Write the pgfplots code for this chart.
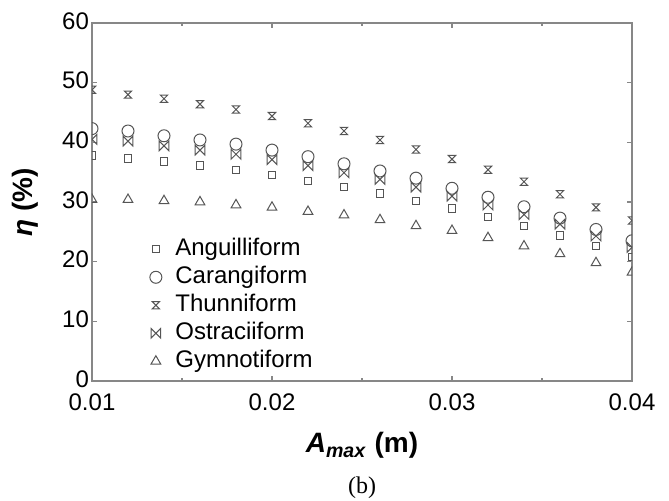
\documentclass[border=0pt]{standalone}
\usepackage{pgfplots}
\pgfplotsset{compat=1.18}
\usepackage{pgfplotstable}
\usepackage{fontspec}
\setmainfont{Liberation Sans}
\newfontfamily\capfont{Liberation Serif}

\definecolor{mk}{RGB}{85,85,85}
\definecolor{frame}{RGB}{135,135,135}

% Thunniform: hourglass, Ostraciiform: bowtie
\pgfdeclareplotmark{hglass}{%
  \pgfpathmoveto{\pgfqpoint{-\pgfplotmarksize}{\pgfplotmarksize}}%
  \pgfpathlineto{\pgfqpoint{\pgfplotmarksize}{\pgfplotmarksize}}%
  \pgfpathlineto{\pgfqpoint{-\pgfplotmarksize}{-\pgfplotmarksize}}%
  \pgfpathlineto{\pgfqpoint{\pgfplotmarksize}{-\pgfplotmarksize}}%
  \pgfpathclose
  \pgfusepathqstroke}
\pgfdeclareplotmark{btie}{%
  \pgfpathmoveto{\pgfqpoint{-\pgfplotmarksize}{\pgfplotmarksize}}%
  \pgfpathlineto{\pgfqpoint{-\pgfplotmarksize}{-\pgfplotmarksize}}%
  \pgfpathlineto{\pgfqpoint{\pgfplotmarksize}{\pgfplotmarksize}}%
  \pgfpathlineto{\pgfqpoint{\pgfplotmarksize}{-\pgfplotmarksize}}%
  \pgfpathclose
  \pgfusepathqstroke}

\pgfplotsset{legend image code/.code={\draw[#1] plot coordinates {(0pt,0pt)};
  \path (-4pt,0pt) (8.5pt,0pt);}}

\pgfplotstableread{
x      ang   car   thu   ost   gym
0.010  37.8  42.3  48.8  40.5  30.4
0.012  37.3  41.9  48.0  40.2  30.4
0.014  36.8  41.1  47.3  39.4  30.2
0.016  36.1  40.4  46.4  38.7  30.0
0.018  35.4  39.7  45.5  38.0  29.5
0.020  34.5  38.7  44.4  37.1  29.1
0.022  33.5  37.6  43.2  36.1  28.4
0.024  32.5  36.4  41.9  34.9  27.8
0.026  31.4  35.2  40.4  33.8  27.0
0.028  30.2  34.0  38.8  32.5  26.0
0.030  28.9  32.3  37.2  31.0  25.2
0.032  27.5  30.8  35.4  29.5  24.0
0.034  26.0  29.2  33.4  27.9  22.6
0.036  24.4  27.3  31.3  26.3  21.3
0.038  22.6  25.4  29.1  24.3  19.8
0.040  20.8  23.5  26.9  22.4  18.2
}\eff

\begin{document}
\begin{tikzpicture}
\path[use as bounding box] (-46pt,-59.5pt) rectangle (288.5pt,190.5pt);
\begin{axis}[
    scale only axis,
    width=270pt, height=179pt,
    xmin=0.01, xmax=0.04, ymin=0, ymax=60,
    xtick={0.01,0.02,0.03,0.04},
    xticklabels={0.01,0.02,0.03,0.04},
    scaled x ticks=false,
    minor xtick={0.015,0.025,0.035},
    ytick={0,10,...,60},
    tick align=inside,
    major tick length=2.5pt, minor tick length=1.5pt,
    axis line style={frame, line width=0.75pt},
    every tick/.style={frame, line width=0.6pt},
    tick label style={font=\fontsize{12}{14}\selectfont},
    /pgf/number format/assume math mode=true,
    xticklabel style={yshift=-3pt},
    yticklabel style={xshift=2pt, yshift=1pt},
    xlabel={\textbf{\textit{A}\textsubscript{\textbf{\textit{max}}} (m)}},
    ylabel={\textbf{\textit{η} (\%)}},
    label style={font=\fontsize{14}{16}\selectfont},
    xlabel style={at={(axis description cs:0.5,-0.18)}, anchor=center},
    ylabel style={at={(axis description cs:-0.123,0.5)}, anchor=center},
    clip marker paths=true,
    legend style={draw=none, fill=none, at={(axis description cs:0.0907,0.418)},
      anchor=north west, font=\fontsize{12}{14}\selectfont,
      nodes={inner sep=1pt, text height=9pt, text depth=2.5pt},
      row sep=0.5pt},
    legend cell align=left,
    every axis plot/.append style={only marks, mk, line width=0.5pt},
]
\addplot[mark=square, mark size=1.85pt] table[x=x, y=ang] {\eff};
\addlegendentry{Anguilliform}
\addplot[mark=o, mark size=3pt] table[x=x, y=car] {\eff};
\addlegendentry{Carangiform}
\addplot[mark=hglass, mark size=1.8pt] table[x=x, y=thu] {\eff};
\addlegendentry{Thunniform}
\addplot[mark=btie, mark size=2.4pt] table[x=x, y=ost] {\eff};
\addlegendentry{Ostraciiform}
\addplot[mark=triangle, mark size=2.8pt] table[x=x, y=gym] {\eff};
\addlegendentry{Gymnotiform}
\end{axis}
\node[font=\capfont\fontsize{12}{14}\selectfont] at (135pt,-53.5pt) {(b)};
\end{tikzpicture}
\end{document}
